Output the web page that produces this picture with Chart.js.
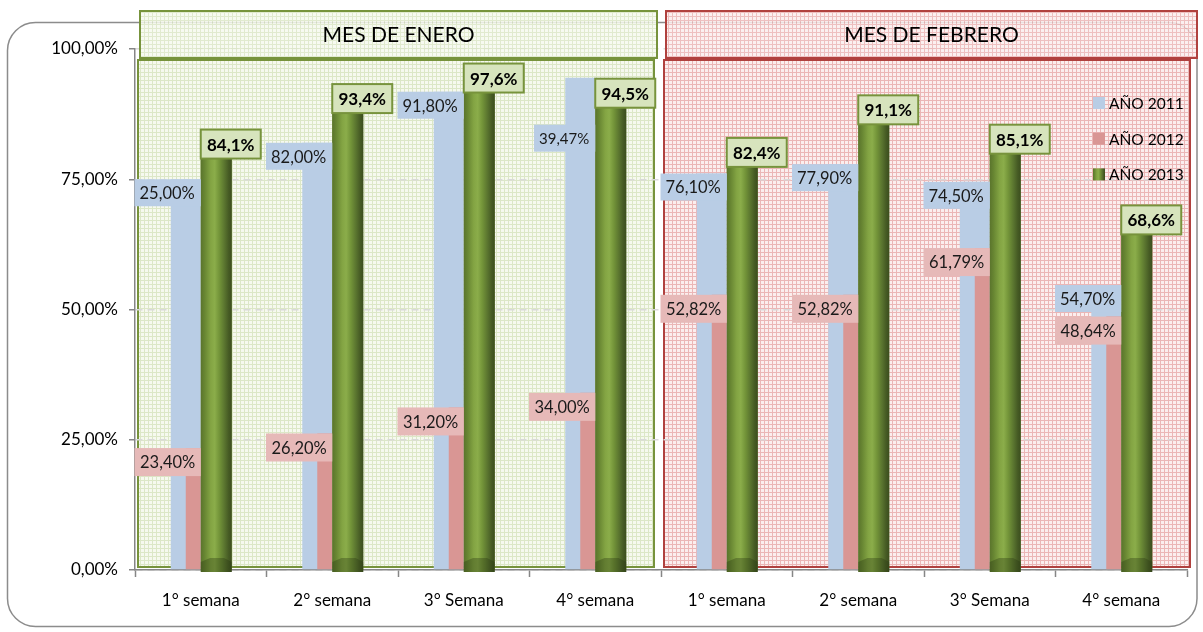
<!DOCTYPE html>
<html><head><meta charset="utf-8">
<script src="https://cdn.jsdelivr.net/npm/chart.js@4/dist/chart.umd.min.js"></script>
<style>html,body{margin:0;padding:0;background:#fff;}#wrap{position:relative;width:1203px;height:632px;}canvas{display:block}</style>
</head><body><div id="wrap"><canvas id="c" width="1203" height="632"></canvas></div>
<script>
// ---- data ----
const categories = ['1° semana','2° semana','3° Semana','4° semana','1° semana','2° semana','3° Semana','4° semana'];
const months = ['MES DE ENERO','MES DE FEBRERO'];
const seriesNames = ['AÑO 2011','AÑO 2012','AÑO 2013'];
const values2011 = [75.0, 82.0, 91.8, 94.5, 76.1, 77.9, 74.5, 54.7];
const labels2011 = ['25,00%','82,00%','91,80%','39,47%','76,10%','77,90%','74,50%','54,70%'];
const values2012 = [23.4, 26.2, 31.2, 34.0, 52.82, 52.82, 61.79, 48.64];
const values2013 = [84.1, 93.4, 97.6, 94.5, 82.4, 91.1, 85.1, 68.6];
const yTicks = [0, 25, 50, 75, 100];

const FONT = 'Lato';
const fmt = (v, d) => v.toFixed(d).replace('.', ',') + '%';

function tile(base, line, step) {
  const c = document.createElement('canvas'); c.width = step; c.height = step;
  const g = c.getContext('2d');
  g.fillStyle = base; g.fillRect(0, 0, step, step);
  g.fillStyle = line; g.fillRect(0, 0, step, 1); g.fillRect(0, 0, 1, step);
  return c;
}
const janTile = tile('#f6f9ef', '#dce7c7', 4);
const febTile = tile('#fbeeee', '#ebb6b6', 4);

function cyl(ctx, x0, x1) {
  const g = ctx.createLinearGradient(x0, 0, x1, 0);
  g.addColorStop(0, '#5a742c'); g.addColorStop(0.12, '#678532');
  g.addColorStop(0.32, '#83a443'); g.addColorStop(0.45, '#8bad4a');
  g.addColorStop(0.6, '#739439'); g.addColorStop(0.78, '#58722e');
  g.addColorStop(0.9, '#465b24'); g.addColorStop(1, '#3c4e1e');
  return g;
}

const backdrop = {
  id: 'backdrop',
  beforeDraw(chart) {
    const {ctx, chartArea: a, scales: {x}} = chart;
    const half = categories.length / 2;
    const mid = (x.getPixelForValue(half - 1) + x.getPixelForValue(half)) / 2;
    ctx.save();
    ctx.strokeStyle = '#8c8c8c'; ctx.lineWidth = 1.5;
    ctx.beginPath(); ctx.roundRect(7.5, 22.5, 1189.5, 604, 28); ctx.stroke();
    const regs = [
      [a.left + 3, mid - 7, janTile, '#77933c'],
      [mid + 3, a.right + 3, febTile, '#b0413e']
    ];
    regs.forEach(([l, r, t, col]) => {
      ctx.fillStyle = ctx.createPattern(t, 'repeat');
      ctx.fillRect(l, a.top + 11, r - l, a.bottom - 3 - (a.top + 11));
      ctx.strokeStyle = col; ctx.lineWidth = 2;
      ctx.strokeRect(l, a.top + 11, r - l, a.bottom - 3 - (a.top + 11));
    });
    ctx.restore();
  },
  afterDatasetsDraw(chart) {
    const {ctx} = chart;
    const mBlue = chart.getDatasetMeta(0), mPink = chart.getDatasetMeta(1), mGreen = chart.getDatasetMeta(2);
    ctx.save();
    mGreen.data.forEach(el => {
      const {x, y, base, width} = el.getProps(['x', 'y', 'base', 'width'], true);
      const l = x - width / 2;
      ctx.fillStyle = cyl(ctx, l, l + width);
      ctx.fillRect(l, y, width, base + 2 - y);
      ctx.fillStyle = 'rgba(40,55,18,0.35)';
      ctx.beginPath();
      ctx.moveTo(l, base + 2); ctx.lineTo(l, base - 8); ctx.lineTo(l + width * 0.3, base - 12);
      ctx.lineTo(l + width * 0.75, base - 12); ctx.lineTo(l + width, base - 8); ctx.lineTo(l + width, base + 2);
      ctx.closePath(); ctx.fill();
    });
    ctx.textBaseline = 'middle';
    mBlue.data.forEach((el, i) => {
      const {x, y, width} = el.getProps(['x', 'y', 'width'], true);
      const txt = labels2011[i];
      ctx.font = (i === 3 ? '15px ' : '16.5px ') + FONT;
      const tw = ctx.measureText(txt).width;
      const w = tw + 11, h = 27, r = x + width / 2;
      const top = y + (i === 3 ? 47 : 0);
      ctx.fillStyle = '#b9cde5'; ctx.fillRect(r - w, top, w, h);
      ctx.fillStyle = '#1a1a1a'; ctx.textAlign = 'left';
      ctx.fillText(txt, r - w + 5, top + h / 2 + 1);
    });
    mPink.data.forEach((el, i) => {
      const {x, y, width} = el.getProps(['x', 'y', 'width'], true);
      const txt = fmt(values2012[i], 2);
      ctx.font = '16.5px ' + FONT;
      const tw = ctx.measureText(txt).width;
      const w = tw + 11, h = 28, r = x + width / 2;
      ctx.fillStyle = '#e6b9b8'; ctx.fillRect(r - w, y, w, h);
      ctx.fillStyle = '#1a1a1a'; ctx.textAlign = 'center';
      ctx.fillText(txt, r - w / 2, y + h / 2 + 1);
    });
    mGreen.data.forEach((el, i) => {
      const {x, y, width} = el.getProps(['x', 'y', 'width'], true);
      const txt = fmt(values2013[i], 1);
      const l = x - width / 2, w = 60, h = 29;
      ctx.fillStyle = '#d7e4bd'; ctx.fillRect(l, y - h, w, h);
      ctx.strokeStyle = '#77933c'; ctx.lineWidth = 2; ctx.strokeRect(l, y - h, w, h);
      ctx.font = 'bold 17px ' + FONT; ctx.fillStyle = '#000'; ctx.textAlign = 'center';
      ctx.fillText(txt, l + w / 2, y - h / 2 + 1);
    });
    ctx.restore();
  },
  afterDraw(chart) {
    const {ctx, chartArea: a, scales: {x}} = chart;
    const half = categories.length / 2;
    const mid = (x.getPixelForValue(half - 1) + x.getPixelForValue(half)) / 2;
    ctx.save();
    const boxes = [
      [a.left + 5, mid - 4, janTile, '#77933c', months[0]],
      [mid + 5, a.right + 10, febTile, '#b0413e', months[1]]
    ];
    boxes.forEach(([l, r, t, col, txt]) => {
      ctx.globalAlpha = 0.85;
      ctx.fillStyle = ctx.createPattern(t, 'repeat');
      ctx.fillRect(l, 11, r - l, 47);
      ctx.globalAlpha = 1;
      ctx.strokeStyle = col; ctx.lineWidth = 2; ctx.strokeRect(l, 11, r - l, 47);
      ctx.fillStyle = '#000'; ctx.font = '21px ' + FONT;
      ctx.textAlign = 'center'; ctx.textBaseline = 'middle';
      ctx.fillText(txt, (l + r) / 2, 35);
    });
    const x0 = a.right - 94;
    chart.data.datasets.forEach((ds, k) => {
      const cy = a.top + 54 + k * 35.7;
      ctx.fillStyle = k === 2 ? cyl(ctx, x0, x0 + 12) : ds.backgroundColor;
      ctx.fillRect(x0, cy - 6, 12, 12);
      ctx.fillStyle = '#000'; ctx.font = '15.5px ' + FONT;
      ctx.textAlign = 'left'; ctx.textBaseline = 'middle';
      ctx.fillText(ds.label, x0 + 16, cy + 1);
    });
    ctx.restore();
  }
};

function make() {
  Chart.defaults.font.family = FONT;
  Chart.defaults.color = '#000';
  new Chart(document.getElementById('c'), {
    type: 'bar',
    data: {
      labels: categories,
      datasets: [
        {label: seriesNames[0], data: values2011, backgroundColor: '#b9cde5', stack: 'a', order: 2,
         categoryPercentage: 0.456, barPercentage: 1, yAxisID: 'y'},
        {label: seriesNames[1], data: values2012, backgroundColor: '#d99694', stack: 'a', order: 1,
         categoryPercentage: 0.228, barPercentage: 1, yAxisID: 'y'},
        {label: seriesNames[2], data: values2013, backgroundColor: '#77933c', stack: 'b', order: 3,
         categoryPercentage: 0.4715, barPercentage: 1, yAxisID: 'y2'}
      ]
    },
    options: {
      responsive: false, animation: false,
      layout: {padding: {top: 49, right: 16, left: 0, bottom: 0}},
      plugins: {legend: {display: false}, tooltip: {enabled: false}},
      scales: {
        x: {
          offset: true,
          afterFit: s => { s.height = 62; },
          grid: {display: true, drawOnChartArea: false, drawTicks: true, offset: true, tickLength: 7,
                 tickColor: '#868686', tickWidth: 1.5, color: '#868686'},
          border: {display: true, color: '#868686', width: 1.5},
          ticks: {font: {size: 17}, color: '#000', padding: 13, maxRotation: 0, autoSkip: false}
        },
        y: {
          min: 0, max: 100, stacked: false,
          afterFit: s => { s.width = 135; },
          afterBuildTicks: s => { s.ticks = yTicks.map(v => ({value: v})); },
          grid: {color: '#d9d9d9', lineWidth: 1.5, tickColor: '#868686', tickWidth: 1.5, tickLength: 6},
          border: {display: true, color: '#868686', width: 1.5, dash: [7, 5]},
          ticks: {font: {size: 17}, color: '#000', padding: 11, callback: v => fmt(v, 2)}
        },
        y2: {min: 0, max: 106.5, stacked: false, display: false}
      }
    },
    plugins: [backdrop]
  });
}
(document.fonts && document.fonts.load ? document.fonts.load('15px ' + FONT).catch(() => {}) : Promise.resolve()).then(make);
</script></body></html>
